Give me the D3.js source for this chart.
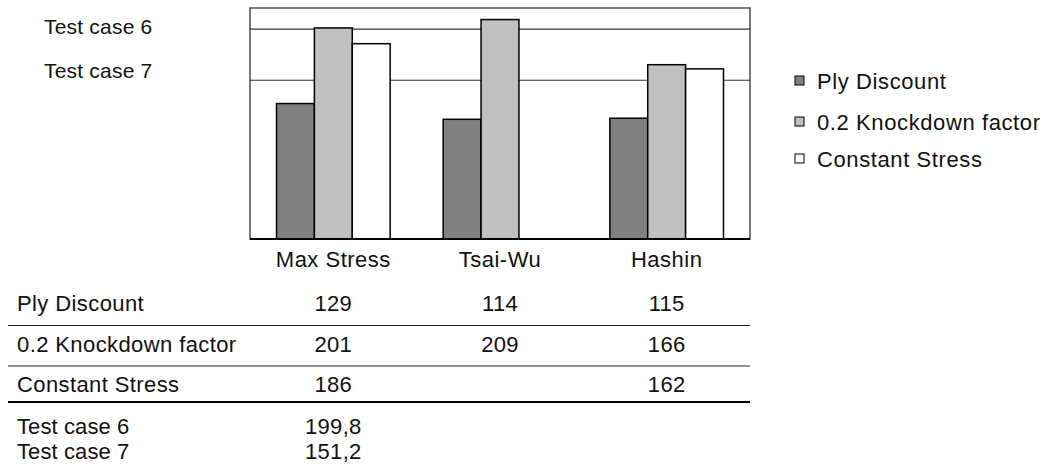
<!DOCTYPE html>
<html>
<head>
<meta charset="utf-8">
<script src="https://cdn.jsdelivr.net/npm/d3@7"></script>
<style>
  html, body { margin: 0; padding: 0; background: #fff; }
  svg { display: block; font-family: "Liberation Sans", Arial, sans-serif; }
</style>
</head>
<body>
<svg id="chart" width="1046" height="473"></svg>
<script>
// Failure loads per criterion and degradation model
const categories = ["Max Stress", "Tsai-Wu", "Hashin"];
const seriesNames = ["Ply Discount", "0.2 Knockdown factor", "Constant Stress"];
const plyDiscount = [129, 114, 115];
const knockdownFactor = [201, 209, 166];
const constantStress = [186, null, 162];
const testCaseNames = ["Test case 6", "Test case 7"];
const testCaseValues = [199.8, 151.2];
const yMax = 220;

const seriesValues = [plyDiscount, knockdownFactor, constantStress];
const seriesFill = ["#808080", "#c0c0c0", "#ffffff"];

const svg = d3.select("#chart");
const plot = { left: 250, right: 750, top: 8, bottom: 239 };

const x0 = d3.scaleBand().domain(categories).range([plot.left, plot.right]).padding(0);
const x1 = d3.scaleBand().domain(seriesNames).range([0, x0.bandwidth()])
  .paddingInner(0).paddingOuter(0.7);
const y = d3.scaleLinear().domain([0, yMax]).range([plot.bottom, plot.top]);

const comma = d3.formatLocale({ decimal: ",", thousands: ".", grouping: [3], currency: ["", ""] });
const fmt1 = comma.format(".1f");

const FONT = 22;

// Plot frame
svg.append("rect")
  .attr("x", plot.left).attr("y", plot.top)
  .attr("width", plot.right - plot.left).attr("height", plot.bottom - plot.top)
  .attr("fill", "#fff").attr("stroke", "#222").attr("stroke-width", 1.2);

// Reference levels of the two test cases
svg.append("g").selectAll("line")
  .data(testCaseValues)
  .join("line")
  .attr("x1", plot.left).attr("x2", plot.right)
  .attr("y1", d => y(d)).attr("y2", d => y(d))
  .attr("stroke", "#333").attr("stroke-width", 1.2);

// Grouped bars
const rows = [];
categories.forEach((c, i) => {
  seriesNames.forEach((s, j) => {
    const v = seriesValues[j][i];
    if (v != null) rows.push({ c, s, j, v });
  });
});

svg.append("g").selectAll("rect")
  .data(rows)
  .join("rect")
  .attr("x", d => x0(d.c) + x1(d.s))
  .attr("y", d => y(d.v))
  .attr("width", x1.bandwidth())
  .attr("height", d => y(0) - y(d.v))
  .attr("fill", d => seriesFill[d.j])
  .attr("stroke", "#000").attr("stroke-width", 1.5);

// Base line of the plot
svg.append("line")
  .attr("x1", plot.left).attr("x2", plot.right)
  .attr("y1", plot.bottom).attr("y2", plot.bottom)
  .attr("stroke", "#000").attr("stroke-width", 2);

// Labels of the reference levels, top left
svg.append("g").selectAll("text")
  .data(testCaseNames)
  .join("text")
  .attr("x", 44)
  .attr("y", (d, i) => 34 + i * 44)
  .attr("font-size", 21).attr("letter-spacing", 0.2)
  .attr("fill", "#111")
  .text(d => d);

// Legend
const legend = svg.append("g").attr("transform", "translate(795,0)");
const legendY = [81, 122, 159];
seriesNames.forEach((s, j) => {
  legend.append("rect")
    .attr("x", 0).attr("y", legendY[j] - 5)
    .attr("width", 9).attr("height", 9)
    .attr("fill", seriesFill[j]).attr("stroke", "#000").attr("stroke-width", 1);
  legend.append("text")
    .attr("x", 22).attr("y", legendY[j] + 7.5)
    .attr("font-size", FONT).attr("letter-spacing", 0.6)
    .attr("fill", "#111")
    .text(s);
});

// Data table under the plot
const table = svg.append("g");
const center = c => x0(c) + x0.bandwidth() / 2;

table.selectAll("text.cat")
  .data(categories)
  .join("text")
  .attr("class", "cat")
  .attr("x", d => center(d)).attr("y", 267)
  .attr("text-anchor", "middle")
  .attr("font-size", FONT).attr("letter-spacing", 0.5)
  .attr("fill", "#111")
  .text(d => d);

const rowY = [311, 352, 392];
seriesNames.forEach((s, j) => {
  table.append("text")
    .attr("x", 17).attr("y", rowY[j])
    .attr("font-size", FONT).attr("letter-spacing", 0.4)
    .attr("fill", "#111")
    .text(s);
  table.selectAll(null)
    .data(categories.map((c, i) => ({ c, v: seriesValues[j][i] })).filter(d => d.v != null))
    .join("text")
    .attr("x", d => center(d.c)).attr("y", rowY[j])
    .attr("text-anchor", "middle")
    .attr("font-size", FONT).attr("letter-spacing", 0.3)
    .attr("fill", "#111")
    .text(d => d.v);
});

// Row separators
const sepY = [325.5, 366];
table.selectAll("line.sep")
  .data(sepY)
  .join("line")
  .attr("class", "sep")
  .attr("x1", 8).attr("x2", plot.right)
  .attr("y1", d => d).attr("y2", d => d)
  .attr("stroke", "#222").attr("stroke-width", 1.2);
table.append("line")
  .attr("x1", 8).attr("x2", plot.right)
  .attr("y1", 402).attr("y2", 402)
  .attr("stroke", "#000").attr("stroke-width", 2);

// Test case values below the table
const tcY = [434, 459];
testCaseNames.forEach((n, i) => {
  table.append("text")
    .attr("x", 17).attr("y", tcY[i])
    .attr("font-size", FONT).attr("letter-spacing", 0.1)
    .attr("fill", "#111")
    .text(n);
  table.append("text")
    .attr("x", center(categories[0])).attr("y", tcY[i])
    .attr("text-anchor", "middle")
    .attr("font-size", FONT).attr("letter-spacing", 0.3)
    .attr("fill", "#111")
    .text(fmt1(testCaseValues[i]));
});
</script>
</body>
</html>
